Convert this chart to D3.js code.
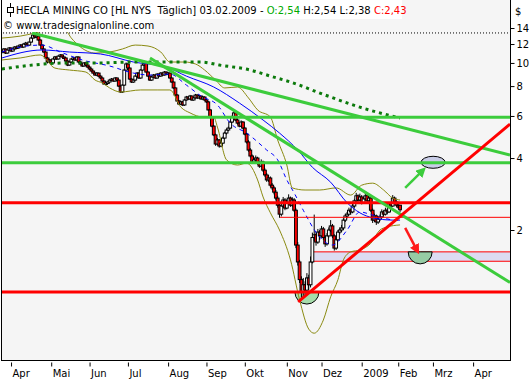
<!DOCTYPE html>
<html>
<head>
<meta charset="utf-8">
<script src="https://cdn.jsdelivr.net/npm/d3@7"></script>
<style>
html, body { margin: 0; padding: 0; background: #fff; }
svg { display: block; font-family: "DejaVu Sans", sans-serif; font-size: 10px; }
</style>
</head>
<body>
<div id="chart"></div>
<script>
/* CONSTANTS */
const width = 532, height = 380;
const frame = { left: 1.5, right: 510.5, top: -1, bottom: 360.5 };

/* DATA - daily candles 25.03.2008 .. 03.02.2009 (trading days) */
const open = [11.30,11.11,11.44,11.00,11.33,11.55,11.22,11.44,11.66,11.55,
11.77,11.88,11.66,12.00,12.10,11.88,12.23,12.71,13.08,12.83,
12.95,12.47,11.88,11.44,11.11,10.49,10.09,10.29,10.00,10.39,
10.59,10.39,10.69,10.80,10.59,10.49,10.19,9.80,10.09,10.39,
10.49,10.29,10.59,10.09,9.90,9.71,10.00,9.80,9.61,9.43,
9.25,9.07,8.90,9.07,8.81,8.65,8.40,8.16,8.24,8.32,
8.48,8.56,8.40,8.65,8.48,8.00,7.56,8.08,9.34,9.90,
9.52,8.56,8.32,8.48,8.81,9.07,8.65,9.34,9.80,10.00,
9.16,8.81,8.48,8.73,8.90,8.65,8.98,8.81,9.07,8.90,
9.16,8.98,9.07,8.65,8.32,7.86,7.34,6.93,6.73,6.87,
6.67,7.00,7.20,7.07,7.27,7.00,7.14,7.34,7.14,7.27,
7.07,7.20,7.00,6.87,6.36,5.94,5.44,5.00,4.58,4.76,
4.49,4.62,4.85,5.09,5.24,5.34,5.66,5.94,6.18,5.77,
5.60,5.44,5.66,5.34,5.04,4.67,4.32,4.08,3.85,3.93,
4.00,3.81,3.70,3.85,3.56,3.40,3.24,3.30,3.08,3.00,
2.88,2.72,2.54,2.33,2.52,2.67,2.47,2.60,2.72,2.54,
2.67,2.42,1.73,1.47,1.24,1.10,1.18,1.12,1.26,1.18,
1.47,1.86,1.91,1.78,1.96,1.89,2.02,1.86,1.75,1.89,
2.00,2.08,1.89,1.68,1.82,1.96,2.00,2.04,2.20,2.29,
2.33,2.42,2.38,2.52,2.65,2.78,2.67,2.75,2.60,2.70,
2.78,2.65,2.72,2.42,2.20,2.29,2.16,2.22,2.27,2.38,
2.33,2.42,2.38,2.57,2.52,2.72,2.62,2.54,2.54];

const high = [11.40,11.52,11.50,11.40,11.66,11.60,11.52,11.75,11.80,11.85,
12.00,11.95,12.10,12.25,12.15,12.30,12.85,13.35,13.20,13.10,
13.00,12.55,11.95,11.50,11.15,10.60,10.40,10.35,10.45,10.70,
10.65,10.75,10.90,10.85,10.65,10.55,10.25,10.15,10.45,10.60,
10.55,10.65,10.62,10.15,9.95,10.08,10.05,9.85,9.70,9.50,
9.30,9.12,9.15,9.10,8.88,8.70,8.45,8.30,8.40,8.55,
8.65,8.60,8.72,8.70,8.52,8.05,8.15,9.45,10.05,9.98,
9.58,8.62,8.56,8.90,9.15,9.12,9.42,9.90,10.15,10.05,
9.22,8.86,8.80,8.98,8.95,9.05,9.02,9.15,9.12,9.25,
9.20,9.15,9.10,8.70,8.36,7.90,7.40,7.00,6.95,6.92,
7.06,7.28,7.25,7.35,7.30,7.20,7.42,7.38,7.35,7.30,
7.28,7.24,7.05,6.92,6.42,6.00,5.50,5.06,4.85,4.80,
4.70,4.92,5.16,5.32,5.42,5.74,6.02,6.30,6.22,5.85,
5.65,5.75,5.70,5.40,5.10,4.75,4.40,4.14,4.02,4.10,
4.05,3.88,3.95,3.90,3.62,3.46,3.40,3.35,3.14,3.05,
2.94,2.78,2.60,2.60,2.75,2.72,2.68,2.82,2.76,2.74,
2.72,2.46,1.78,1.50,1.28,1.26,1.22,1.32,1.30,1.55,
1.95,2.32,1.96,2.02,2.00,2.08,2.06,1.90,1.94,2.05,
2.20,2.12,1.92,1.86,2.00,2.05,2.10,2.24,2.34,2.38,
2.48,2.46,2.58,2.70,2.86,2.82,2.84,2.80,2.76,2.88,
2.82,2.80,2.75,2.46,2.34,2.32,2.28,2.32,2.44,2.42,
2.48,2.46,2.62,2.62,2.80,2.76,2.66,2.60,2.54];

const low = [10.95,11.05,10.90,10.95,11.25,11.10,11.15,11.38,11.45,11.50,
11.70,11.55,11.60,11.92,11.80,11.82,12.15,12.65,12.70,12.75,
12.35,11.80,11.35,11.00,10.40,9.95,10.00,9.90,9.95,10.30,
10.30,10.35,10.60,10.50,10.40,10.10,9.70,9.75,10.00,10.30,
10.20,10.25,10.00,9.82,9.62,9.66,9.72,9.55,9.36,9.18,
9.00,8.84,8.85,8.75,8.58,8.33,8.10,8.08,8.18,8.28,
8.42,8.35,8.36,8.42,7.95,7.50,7.50,8.02,9.28,9.45,
8.50,8.25,8.26,8.42,8.75,8.58,8.60,9.28,9.72,9.10,
8.75,8.42,8.42,8.68,8.58,8.60,8.75,8.76,8.84,8.86,
8.92,8.94,8.60,8.26,7.80,7.28,6.88,6.66,6.68,6.60,
6.62,6.95,7.00,7.02,6.95,6.96,7.10,7.08,7.10,7.02,
7.02,6.95,6.80,6.30,5.88,5.38,4.94,4.50,4.52,4.42,
4.44,4.58,4.80,5.02,5.18,5.30,5.60,5.88,5.70,5.52,
5.38,5.40,5.28,4.98,4.60,4.25,4.02,3.78,3.80,3.88,
3.75,3.64,3.66,3.50,3.34,3.18,3.18,3.02,2.94,2.82,
2.66,2.48,2.25,2.28,2.48,2.42,2.44,2.56,2.50,2.50,
2.38,1.68,1.42,1.20,1.04,1.05,1.06,1.08,1.12,1.15,
1.45,1.80,1.72,1.75,1.82,1.86,1.82,1.70,1.72,1.86,
1.96,1.85,1.64,1.65,1.80,1.92,1.96,2.00,2.16,2.24,
2.30,2.32,2.35,2.48,2.62,2.62,2.64,2.56,2.57,2.66,
2.60,2.62,2.38,2.14,2.16,2.10,2.12,2.18,2.24,2.28,
2.30,2.33,2.36,2.46,2.50,2.58,2.50,2.45,2.38];

const close = [11.11,11.44,11.00,11.33,11.55,11.22,11.44,11.66,11.55,11.77,
11.88,11.66,12.00,12.10,11.88,12.23,12.71,13.08,12.83,12.95,
12.47,11.88,11.44,11.11,10.49,10.09,10.29,10.00,10.39,10.59,
10.39,10.69,10.80,10.59,10.49,10.19,9.80,10.09,10.39,10.49,
10.29,10.59,10.09,9.90,9.71,10.00,9.80,9.61,9.43,9.25,
9.07,8.90,9.07,8.81,8.65,8.40,8.16,8.24,8.32,8.48,
8.56,8.40,8.65,8.48,8.00,7.56,8.08,9.34,9.90,9.52,
8.56,8.32,8.48,8.81,9.07,8.65,9.34,9.80,10.00,9.16,
8.81,8.48,8.73,8.90,8.65,8.98,8.81,9.07,8.90,9.16,
8.98,9.07,8.65,8.32,7.86,7.34,6.93,6.73,6.87,6.67,
7.00,7.20,7.07,7.27,7.00,7.14,7.34,7.14,7.27,7.07,
7.20,7.00,6.87,6.36,5.94,5.44,5.00,4.58,4.76,4.49,
4.62,4.85,5.09,5.24,5.34,5.66,5.94,6.18,5.77,5.60,
5.44,5.66,5.34,5.04,4.67,4.32,4.08,3.85,3.93,4.00,
3.81,3.70,3.85,3.56,3.40,3.24,3.30,3.08,3.00,2.88,
2.72,2.54,2.33,2.52,2.67,2.47,2.60,2.72,2.54,2.67,
2.42,1.73,1.47,1.24,1.10,1.18,1.12,1.26,1.18,1.47,
1.86,1.91,1.78,1.96,1.89,2.02,1.86,1.75,1.89,2.00,
2.08,1.89,1.68,1.82,1.96,2.00,2.04,2.20,2.29,2.33,
2.42,2.38,2.52,2.65,2.78,2.67,2.75,2.60,2.70,2.78,
2.65,2.72,2.42,2.20,2.29,2.16,2.22,2.27,2.38,2.33,
2.42,2.38,2.57,2.52,2.72,2.62,2.54,2.49,2.43];

// month starts as trading-day index
const monthTicks = [5, 27, 48, 69, 91, 112, 133, 156, 175, 197, 217, 236, 258];
const monthLabels = ["Apr", "Mai", "Jun", "Jul", "Aug", "Sep", "Okt", "Nov", "Dez", "2009", "Feb", "Mrz", "Apr"];
const priceTicks = [14, 12, 10, 8, 6, 4, 2];

const ma200 = [[0,9.43],[17,9.80],[36,10.0],[54,10.0],[72,10.09],[90,10.09],[109,10.09],[119,9.8],[136,9.34],[147,8.81],[158,8.32],[177,7.34],[196,6.53],[218,5.88]];
const ma50 = [[0,10.49],[22,11.33],[37,11.11],[54,10.9],[72,10.09],[90,9.61],[101,8.81],[116,7.93],[130,6.8],[143,5.77],[152,5.09],[162,4.32],[170,3.66],[180,3.17],[189,2.6],[196,2.36],[203,2.25],[214,2.2],[218,2.2]];
const ma20 = [[0,11.11],[10,11.66],[22,11.88],[32,11.11],[44,10.29],[59,9.71],[72,9.07],[81,8.9],[92,8.98],[101,8.08],[109,7.27],[118,6.67],[125,5.6],[134,5.09],[145,4.32],[151,3.93],[156,3.24],[160,2.86],[165,2.42],[173,1.91],[181,1.73],[189,2.0],[196,2.38],[203,2.31],[216,2.2],[218,2.2]];
const bbUpper = [[0,12.71],[10,12.95],[18,13.33],[26,13.74],[35,13.6],[38,12.71],[43,11.66],[51,11.0],[59,11.11],[66,11.44],[73,11.88],[80,11.77],[87,11.11],[92,10.09],[100,10.09],[106,9.9],[111,9.34],[117,8.48],[122,7.86],[129,7.93],[135,7.14],[140,6.36],[147,5.94],[151,4.76],[156,3.74],[159,3.0],[166,2.94],[174,2.94],[183,3.0],[191,2.8],[197,3.08],[203,3.14],[209,2.94],[214,2.72],[218,2.67]];
const bbLower = [[0,10.29],[10,10.49],[21,10.8],[29,9.52],[37,9.34],[46,9.16],[51,8.48],[55,8.24],[59,7.86],[65,7.56],[76,7.71],[85,7.71],[92,7.71],[98,6.53],[103,6.18],[110,5.94],[116,5.94],[118,5.39],[123,3.93],[129,3.74],[134,3.81],[140,3.24],[143,2.75],[147,2.36],[152,2.0],[158,1.5],[163,1.02],[168,0.77],[171,0.74],[176,0.84],[180,1.05],[184,1.24],[187,1.5],[191,1.62],[196,1.65],[202,1.76],[207,2.0],[211,2.06],[218,2.1]];

// drawing tools
const greenLevels = [5.93, 3.82];
const redLevels = [2.60, 1.10];
const thinRed = { from: 152.3, price: 2.26 };
const band = { from: 169.3, top: 1.62, bottom: 1.48 };
const topDotted = 13.35;
const greenTrends = [[[16.5, 13.35], [278.2, 4.12]], [[81.1, 10.49], [278.2, 1.205]]];
const redTrend = [[162.2, 1.0], [278.2, 5.55]];
const greenArrow = [[220.8, 3.0], [230.6, 3.56]];
const redArrow = [[220.8, 2.04], [227.4, 1.64]];
const ellipse = { day: 236.1, price: 3.84 };
const halfCircles = [{ day: 167, price: 1.10, fill: "#a6dcaa" }, { day: 229, price: 1.62, fill: "#96cca4" }];

/* SCALES */
const x = d3.scaleLinear().domain([0, 278.2]).range([1.9, 510]);
const y = d3.scaleLog().domain([2, 20]).range([230, -9]);

/* SVG */
const svg = d3.select("#chart").append("svg")
  .attr("width", width)
  .attr("height", height)
  .attr("viewBox", `0 0 ${width} ${height}`);

const defs = svg.append("defs");
defs.append("clipPath").attr("id", "plot")
  .append("rect").attr("x", 2).attr("y", 0).attr("width", 508).attr("height", 360);

[["arrowGreen", "#3ccc3c"], ["arrowRed", "#ff1a1a"]].forEach(([id, c]) => {
  defs.append("marker").attr("id", id)
    .attr("viewBox", "0 0 10 10").attr("refX", 6).attr("refY", 5)
    .attr("markerWidth", 4).attr("markerHeight", 4).attr("orient", "auto")
    .append("path").attr("d", "M0,0 L10,5 L0,10 Z").attr("fill", c);
});

// plot background
svg.append("rect")
  .attr("x", frame.left).attr("y", 0)
  .attr("width", frame.right - frame.left).attr("height", frame.bottom)
  .attr("fill", "#f5f5f5");

const plot = svg.append("g").attr("clip-path", "url(#plot)");

// lavender band
plot.append("rect")
  .attr("x", x(band.from)).attr("y", y(band.top))
  .attr("width", x.range()[1] - x(band.from))
  .attr("height", y(band.bottom) - y(band.top))
  .attr("fill", "#dcdcf2");
[band.top, band.bottom].forEach(p => {
  plot.append("line")
    .attr("x1", x(band.from)).attr("x2", 511)
    .attr("y1", y(p)).attr("y2", y(p))
    .attr("stroke", "#ff0000").attr("stroke-width", 1);
});

// half circles and ellipse
const halfArc = d3.arc().innerRadius(0).outerRadius(12).startAngle(Math.PI / 2).endAngle(Math.PI * 1.5);
halfCircles.forEach(h => {
  plot.append("path")
    .attr("d", halfArc())
    .attr("transform", `translate(${x(h.day)},${y(h.price)})`)
    .attr("fill", h.fill).attr("stroke", "#000").attr("stroke-width", 1);
});
plot.append("ellipse")
  .attr("cx", x(ellipse.day)).attr("cy", y(ellipse.price))
  .attr("rx", 12).attr("ry", 6)
  .attr("fill", "#c8cce6").attr("stroke", "#000").attr("stroke-width", 1);

// candles
const days = d3.range(close.length);
const candle = plot.append("g").selectAll("g")
  .data(days)
  .join("g");
candle.append("line")
  .attr("x1", i => x(i)).attr("x2", i => x(i))
  .attr("y1", i => y(high[i])).attr("y2", i => y(low[i]))
  .attr("stroke", "#000").attr("stroke-width", 1);
candle.append("rect")
  .attr("x", i => x(i) - 1.4)
  .attr("y", i => y(Math.max(open[i], close[i])))
  .attr("width", 2.8)
  .attr("height", i => Math.max(1.5, Math.abs(y(open[i]) - y(close[i]))))
  .attr("fill", i => close[i] < open[i] ? "#ff0000" : "#ffffff")
  .attr("stroke", "#000").attr("stroke-width", 1);

// indicators
const line = d3.line().x(d => x(d[0])).y(d => y(d[1])).curve(d3.curveMonotoneX);
plot.append("path").attr("d", line(bbUpper)).attr("fill", "none").attr("stroke", "#8a8a10").attr("stroke-width", 1);
plot.append("path").attr("d", line(bbLower)).attr("fill", "none").attr("stroke", "#8a8a10").attr("stroke-width", 1);
plot.append("path").attr("d", line(ma50)).attr("fill", "none").attr("stroke", "#0000ff").attr("stroke-width", 1);
plot.append("path").attr("d", line(ma20)).attr("fill", "none").attr("stroke", "#0000ff").attr("stroke-width", 1).attr("stroke-dasharray", "4 4");
plot.append("path").attr("d", line(ma200)).attr("fill", "none").attr("stroke", "#0b7a0b").attr("stroke-width", 3).attr("stroke-dasharray", "3 4");

// horizontal levels
const hline = (p, color, w, x0) => plot.append("line")
  .attr("x1", x0 === undefined ? 0 : x(x0)).attr("x2", 511)
  .attr("y1", y(p)).attr("y2", y(p))
  .attr("stroke", color).attr("stroke-width", w);

hline(topDotted, "#000", 1).attr("stroke-dasharray", "1 2");
greenLevels.forEach(p => hline(p, "#3ccc3c", 3));
redLevels.forEach(p => hline(p, "#ff0000", 3));
hline(thinRed.price, "#ff0000", 1, thinRed.from);

// trend lines
const seg = d3.line().x(d => x(d[0])).y(d => y(d[1]));
greenTrends.forEach(t => {
  plot.append("path").attr("d", seg(t)).attr("stroke", "#3ccc3c").attr("stroke-width", 3).attr("fill", "none");
});
plot.append("path").attr("d", seg(redTrend)).attr("stroke", "#ff0000").attr("stroke-width", 3).attr("fill", "none");

// arrows
plot.append("path").attr("d", seg(greenArrow)).attr("stroke", "#3ccc3c").attr("stroke-width", 2.5)
  .attr("fill", "none").attr("marker-end", "url(#arrowGreen)");
plot.append("path").attr("d", seg(redArrow)).attr("stroke", "#ff1a1a").attr("stroke-width", 2.5)
  .attr("fill", "none").attr("marker-end", "url(#arrowRed)");

// frame
svg.append("rect")
  .attr("x", frame.left).attr("y", frame.top)
  .attr("width", frame.right - frame.left).attr("height", frame.bottom - frame.top)
  .attr("fill", "none").attr("stroke", "#000").attr("stroke-width", 1);

/* AXES */
const yAxis = svg.append("g")
  .attr("transform", `translate(${frame.right},0)`)
  .call(d3.axisRight(y).tickValues(priceTicks).tickSize(4).tickPadding(2).tickFormat(d3.format("d")))
  .attr("font-family", "DejaVu Sans").attr("font-size", 10);
yAxis.select(".domain").remove();

svg.append("text").attr("x", 515).attr("y", 15).attr("fill", "#000").text("$");

const xAxis = svg.append("g")
  .attr("transform", "translate(0,362.5)")
  .call(d3.axisBottom(x).tickValues(monthTicks).tickSize(4).tickFormat((d, i) => monthLabels[i]))
  .attr("font-family", "DejaVu Sans").attr("font-size", 10);
xAxis.select(".domain").remove();
xAxis.selectAll(".tick text").attr("text-anchor", "start").attr("x", 1);

/* TITLE */
svg.append("rect").attr("x", 2).attr("y", 0).attr("width", 400).attr("height", 19).attr("fill", "#fff");
svg.append("rect").attr("x", 2).attr("y", 19).attr("width", 148).attr("height", 13).attr("fill", "#fff");

// small candle icon
svg.append("line").attr("x1", 10.5).attr("x2", 10.5).attr("y1", 3).attr("y2", 17).attr("stroke", "#000");
svg.append("rect").attr("x", 7.5).attr("y", 7.5).attr("width", 6).attr("height", 5)
  .attr("fill", "#fff").attr("stroke", "#000");

const title = svg.append("text").attr("x", 16).attr("y", 14).style("white-space", "pre");
title.append("tspan").attr("fill", "#000").text("HECLA MINING CO [HL NYS  Täglich] 03.02.2009 - ");
title.append("tspan").attr("fill", "#00aa00").text("O:2,54");
title.append("tspan").attr("fill", "#000").text(" H:2,54 L:2,38 ");
title.append("tspan").attr("fill", "#ff0000").text("C:2,43");

svg.append("text").attr("x", 3).attr("y", 29).attr("fill", "#000").text("© www.tradesignalonline.com");
</script>
</body>
</html>
